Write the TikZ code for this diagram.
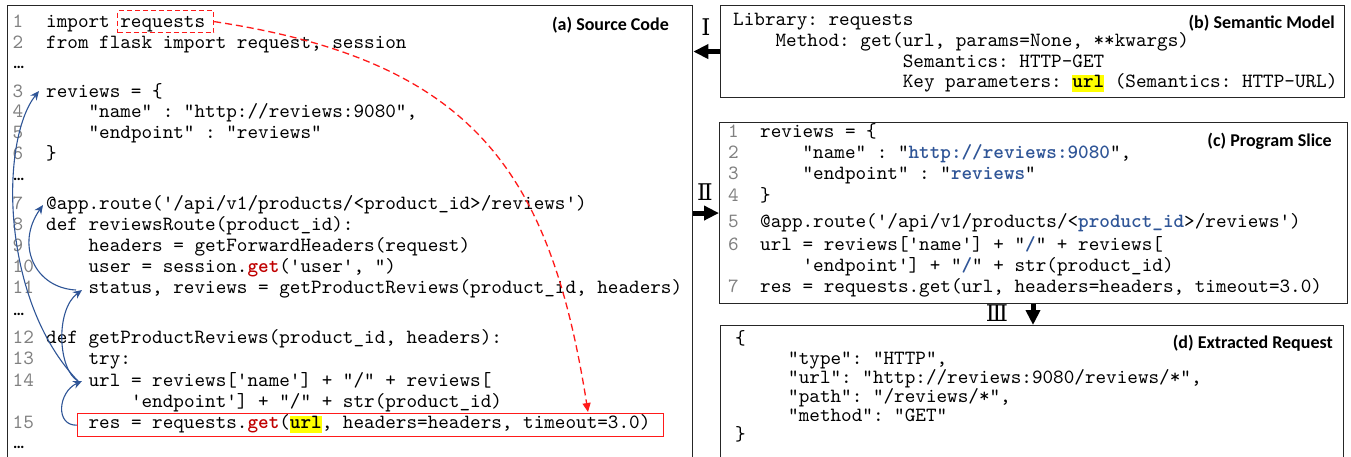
\documentclass[tikz,border=0pt]{standalone}
\usepackage{fontspec}
\setmonofont{lmmono10-regular.otf}[BoldFont=lmmonolt10-bold.otf]
\newfontfamily\lblfont{Carlito}
\newfontfamily\romfont{DejaVu Serif}
\usetikzlibrary{arrows.meta}

\definecolor{getred}{HTML}{C00000}
\definecolor{sliceblue}{HTML}{2F5597}
\definecolor{flowblue}{HTML}{2F5597}
\definecolor{numgray}{HTML}{808080}
\definecolor{hlyellow}{HTML}{FFFF00}
\definecolor{boxred}{HTML}{FF1A1A}

\newcommand\codesize{\fontsize{20.19pt}{21pt}\selectfont}
\newcommand\kwred[1]{\textcolor{getred}{\textbf{#1}}}
\newcommand\slc[1]{\textcolor{sliceblue}{\textbf{#1}}}
\newcommand\hlu[1]{{\setlength{\fboxsep}{0pt}\colorbox{hlyellow}{\rule[-4.5pt]{0pt}{17pt}\textbf{#1}}}}

\begin{document}
\begin{tikzpicture}[x=1pt,y=-1pt,
  code/.style={anchor=base west, inner sep=0pt, font=\ttfamily\codesize},
  lnum/.style={code, text=numgray},
  dots/.style={anchor=base west, inner sep=0pt, font=\lblfont\bfseries\fontsize{16pt}{16pt}\selectfont},
  tag/.style={anchor=base east, inner sep=0pt, font=\lblfont\bfseries\fontsize{18pt}{18pt}\selectfont},
  panel/.style={draw=black!85, line width=1.1pt, anchor=north west, inner sep=0pt},
  flow/.style={draw=flowblue, line width=1.1pt, -{Stealth[length=9pt,width=8pt]}},
  bigarrow/.style={line width=5pt, -{Triangle[length=15pt,width=14pt]}},
  roman/.style={font=\romfont\fontsize{23pt}{23pt}\selectfont, inner sep=0pt},
  redcurve/.style={draw=boxred, line width=1.3pt, dash pattern=on 7pt off 4pt, -{Triangle[length=9pt,width=8pt]}}
]
\useasboundingbox (0,0) rectangle (1351,456);
\fill[white] (0,0) rectangle (1351,456);
\clip (0,0) rectangle (1351,456);

% ---------- panels ----------
\node[panel, line width=1.3pt, minimum width=685pt, minimum height=480pt] (pa) at (7,5) {};
\node[panel, minimum width=624pt, minimum height=92pt] (pb) at (720,5) {};
\node[panel, minimum width=628pt, minimum height=181pt] (pc) at (719,122) {};
\node[panel, minimum width=623pt, minimum height=160pt] (pd) at (720,325) {};

% ---------- panel titles ----------
\node[tag] (ta) at (669,30) {(a) Source Code};
\node[tag] (tb) at (1335,28) {(b) Semantic Model};
\node[tag] (tc) at (1332,146) {(c) Program Slice};
\node[tag] (td) at (1333,348) {(d) Extracted Request};

% ---------- (a) source code ----------
\node[lnum] (n1) at (12.5,27) {1};
\node[code] (a1) at (46,27) {import requests};
\node[lnum] (n2) at (12.5,48) {2};
\node[code] (a2) at (46,48) {from flask import request, session};
\node[dots] (e1) at (13,68) {…};
\node[lnum] (n3) at (12.5,97) {3};
\node[code] (a3) at (46,97) {reviews = \{};
\node[lnum] (n4) at (12.5,117.5) {4};
\node[code] (a4) at (88.4,117.5) {"name" : "http://reviews:9080",};
\node[lnum] (n5) at (12.5,138.5) {5};
\node[code] (a5) at (88.4,138.5) {"endpoint" : "reviews"};
\node[lnum] (n6) at (12.5,159.5) {6};
\node[code] (a6) at (46,159.5) {\}};
\node[dots] (e2) at (13,180) {…};
\node[lnum] (n7) at (12.5,209) {7};
\node[code] (a7) at (46,209) {@app.route('/api/v1/products/<product\_id>/reviews')};
\node[lnum] (n8) at (12.5,230) {8};
\node[code] (a8) at (46,230) {def reviewsRoute(product\_id):};
\node[lnum] (n9) at (12.5,251) {9};
\node[code] (a9) at (88.4,251) {headers = getForwardHeaders(request)};
\node[lnum] (n10) at (12.5,272) {10};
\node[code] (a10) at (88.4,272) {user = session.\kwred{get}('user', ")};
\node[lnum] (n11) at (12.5,293) {11};
\node[code] (a11) at (88.4,293) {status, reviews = getProductReviews(product\_id, headers)};
\node[dots] (e3) at (13,315) {…};
\node[lnum] (n12) at (12.5,343) {12};
\node[code] (a12) at (46,343) {def getProductReviews(product\_id, headers):};
\node[lnum] (n13) at (12.5,364) {13};
\node[code] (a13) at (88.4,364) {try:};
\node[lnum] (n14) at (12.5,386) {14};
\node[code] (a14) at (88.4,386) {url = reviews['name'] + "/" + reviews[};
\node[code] (a14b) at (130.8,407) {'endpoint'] + "/" + str(product\_id)};
\node[lnum] (n15) at (12.5,428) {15};
\node[code] (a15) at (88.4,428) {res = requests.\kwred{get}(\hlu{url}, headers=headers, timeout=3.0)};
\node[dots] (e4) at (13,448) {…};

% highlighted import and call
\node[draw=boxred, line width=1.2pt, dash pattern=on 5pt off 3pt, inner sep=0pt,
      minimum width=96pt, minimum height=22pt, anchor=north west] (reqbox) at (117,10) {};
\node[draw=boxred, line width=1.3pt, inner sep=0pt,
      minimum width=586pt, minimum height=23pt, anchor=north west] (resbox) at (77,413) {};

% ---------- (b) semantic model ----------
\node[code] (b1) at (733,25) {Library: requests};
\node[code] (b2) at (775.4,46) {Method: get(url, params=None, **kwargs)};
\node[code] (b3) at (902.6,67) {Semantics: HTTP-GET};
\node[code] (b4) at (902.6,87) {Key parameters: \hlu{url} (Semantics: HTTP-URL)};

% ---------- (c) program slice ----------
\node[lnum] (c1n) at (728,137) {1};
\node[code] (c1) at (760,137) {reviews = \{};
\node[lnum] (c2n) at (728,158) {2};
\node[code] (c2) at (802.4,158) {"name" : "\slc{http://reviews:9080}",};
\node[lnum] (c3n) at (728,179) {3};
\node[code] (c3) at (802.4,179) {"endpoint" : "\slc{reviews}"};
\node[lnum] (c4n) at (728,201) {4};
\node[code] (c4) at (760,201) {\}};
\node[lnum] (c5n) at (728,227) {5};
\node[code] (c5) at (760,227) {@app.route('/api/v1/products/<\slc{product\_id}>/reviews')};
\node[lnum] (c6n) at (728,250) {6};
\node[code] (c6) at (760,250) {url = reviews['name'] + "\slc{/}" + reviews[};
\node[code] (c6b) at (802.4,271) {'endpoint'] + "\slc{/}" + str(product\_id)};
\node[lnum] (c7n) at (728,292) {7};
\node[code] (c7) at (760,292) {res = requests.get(url, headers=headers, timeout=3.0)};

% ---------- (d) extracted request ----------
\node[code] (d1) at (735,344) {\{};
\node[code] (d2) at (788,364) {"type": "HTTP",};
\node[code] (d3) at (788,383) {"url": "http://reviews:9080/reviews/*",};
\node[code] (d4) at (788,402) {"path": "/reviews/*",};
\node[code] (d5) at (788,421) {"method": "GET"};
\node[code] (d6) at (735,440) {\}};

% ---------- step arrows ----------
\draw[bigarrow] (pb.west) -- (pb.west -| pa.east);
\draw[bigarrow] (pa.east |- pc.west) -- (pc.west);
\coordinate (stepx) at (1033,0);
\draw[bigarrow] (pc.south -| stepx) -- (pd.north -| stepx);
\node[roman] (r1) at (706,27) {Ⅰ};
\node[roman] (r2) at (705,192) {Ⅱ};
\node[roman] (r3) at (997,313) {Ⅲ};

% ---------- data-flow arrows ----------
\coordinate (t14) at (82,381);
\coordinate (s14) at (78,381);
\coordinate (t11) at (82,290);
\coordinate (s11) at (76,290);
\coordinate (t7) at (43,205);
\coordinate (t3) at (39,91);
\draw[flow] (resbox.west) .. controls (55,426) and (58,392) .. (t14);
\draw[flow] (s14) .. controls (58,370) and (55,310) .. (t11);
\draw[flow] (s11) .. controls (35,288) and (15,245) .. (t7);
\draw[flow] (s14) .. controls (0,300) and (0,140) .. (t3);

% ---------- import-to-call link ----------
\coordinate (redtip) at (588,412);
\draw[redcurve] (reqbox.east) .. controls (473,61) and (550,171) .. (redtip);
\end{tikzpicture}
\end{document}
